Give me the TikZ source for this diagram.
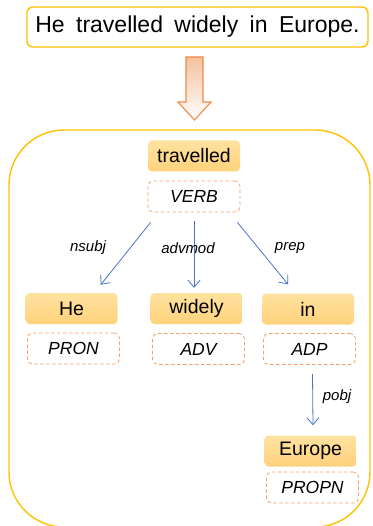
\documentclass[tikz,border=0pt]{standalone}
\usepackage{fontspec}
\setmainfont{Liberation Sans}
\usetikzlibrary{arrows.meta}
\definecolor{gold}{HTML}{FFC000}
\definecolor{wordtop}{HTML}{FFE2A0}
\definecolor{wordbot}{HTML}{FFD27C}
\definecolor{tagline}{HTML}{F2A06C}
\definecolor{deparrow}{HTML}{4A74C8}
\definecolor{bigarrow}{HTML}{F08A4B}
\definecolor{bigfill}{HTML}{F5C19E}
\newcommand{\wsz}      {\fontsize{19.5}{19.5}\selectfont}
\newcommand{\tsz}      {\fontsize{17.5}{17.5}\selectfont\itshape}
\newcommand{\dsz}      {\fontsize{15}{15}\selectfont\itshape}
\begin{document}
\begin{tikzpicture}[x=1pt,y=-1pt,
   wordbox/.style={rounded corners=4pt,top color=wordtop,bottom color=wordbot,
     minimum width=92pt,minimum height=31pt,inner sep=0pt,font=\wsz},
   tagbox/.style={draw=tagline,dash pattern=on 3.5pt off 2.5pt,line width=0.8pt,
     rounded corners=5pt,minimum width=92pt,minimum height=31pt,inner sep=0pt,font=\tsz},
   dep/.style={draw=deparrow,line width=0.8pt,-{Straight Barb[length=7pt,width=12pt]}},
   deplabel/.style={font=\dsz}]
   \useasboundingbox (0,0) rectangle (372,526);
   % sentence and block arrow
   \draw (197.5,27) node[draw=gold,line width=1.4pt,rounded corners=6pt,
     minimum width=341pt,minimum height=40pt,inner sep=0pt,
     font=\fontsize{23}{23}\selectfont] (sentence)
     {He\hspace{5pt} travelled\hspace{5pt} widely\hspace{5pt} in\hspace{5pt} Europe.};
   \draw[bigarrow,line width=1.1pt,top color=bigfill,bottom color=white,
     shading angle=0]
     (186,57) -- (203,57) -- (203,102) -- (211,102) -- (194.5,120) --
     (178,102) -- (186,102) -- cycle;
   % parse tree frame
   \draw[gold,line width=1.4pt,rounded corners=55pt] (9,130) rectangle (370,527);
   \draw (194,156)   node[wordbox] (travelled) {travelled};
   \draw (194,196.5) node[tagbox]  (verb)      {VERB};
   \draw (71.5,308.5) node[wordbox] (he)     {He};
   \draw (73.5,348.5) node[tagbox]  (pron)   {PRON};
   \draw (196.5,308.5) node[wordbox] (widely) {widely};
   \draw (198.5,349)  node[tagbox]  (adv)    {ADV};
   \draw (308,309)    node[wordbox] (in)     {in};
   \draw (309.5,349)  node[tagbox]  (adp)    {ADP};
   \draw (310.5,451)  node[wordbox] (europe) {Europe};
   \draw (312.5,487.5) node[tagbox] (propn)  {PROPN};
   % dependencies
   \draw[dep] ([xshift=3pt,yshift=-10pt]verb.south west) -- ([xshift=-17pt,yshift=8pt]he.north east);
   \draw[dep] ([yshift=-9pt]verb.south) -- ([yshift=5pt,xshift=-2.5pt]widely.north);
   \draw[dep] ([xshift=-3pt,yshift=-10pt]verb.south east) -- ([xshift=-20pt,yshift=9pt]in.north);
   \draw[dep] ([xshift=3pt,yshift=-9pt]adp.south) -- ([xshift=2.5pt,yshift=10pt]europe.north);
   \draw (88,248)  node[deplabel] {nsubj};
   \draw (188,248) node[deplabel] {advmod};
   \draw (290,248) node[deplabel] {prep};
   \draw (337,397) node[deplabel] {pobj};
\end{tikzpicture}
\end{document}
